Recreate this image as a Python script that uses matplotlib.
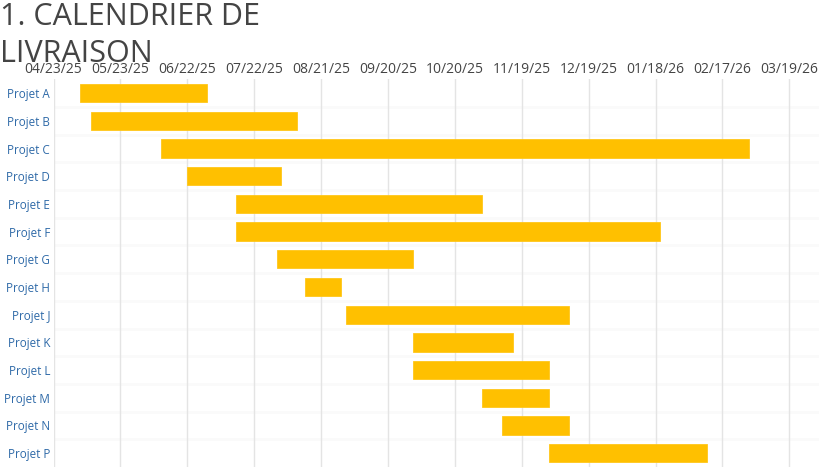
import matplotlib
matplotlib.use("Agg")
import matplotlib.pyplot as plt
import matplotlib.dates as mdates
import pandas as pd

projects = ["Projet A", "Projet B", "Projet C", "Projet D", "Projet E", "Projet F", "Projet G",
            "Projet H", "Projet J", "Projet K", "Projet L", "Projet M", "Projet N", "Projet P"]
starts = ["2025-05-05", "2025-05-10", "2025-06-10", "2025-06-22", "2025-07-14", "2025-07-14", "2025-08-01",
          "2025-08-14", "2025-09-01", "2025-10-01", "2025-10-01", "2025-11-01", "2025-11-10", "2025-12-01"]
ends = ["2025-07-01", "2025-08-10", "2026-03-01", "2025-08-03", "2025-11-01", "2026-01-20", "2025-10-01",
        "2025-08-30", "2025-12-10", "2025-11-15", "2025-12-01", "2025-12-01", "2025-12-10", "2026-02-10"]
tick_dates = pd.date_range("2025-04-23", periods=12, freq="30D")
title = "1. CALENDRIER DE\nLIVRAISON"

plt.rcParams['font.family'] = ['Open Sans', 'DejaVu Sans']

W, H = 819, 469
fig = plt.figure(figsize=(W / 100, H / 100), dpi=100)
left_px, top_px, bottom_px = 53.5, 79.3, 467.0
ax = fig.add_axes([left_px / W, 1 - bottom_px / H, 1 - left_px / W, (bottom_px - top_px) / H])

s = mdates.date2num(pd.to_datetime(starts))
e = mdates.date2num(pd.to_datetime(ends))
ypos = list(range(len(projects)))
ax.barh(ypos, e - s, left=s, height=0.66, color="#FFC000", edgecolor="#FFC71A", linewidth=0.6, zorder=3)

ax.set_ylim(len(projects) - 0.5, -0.5)
ax.set_yticks(ypos)
ax.set_yticklabels(projects, color="#2F6AA8", fontsize=8.4)

x0 = mdates.date2num(pd.Timestamp("2025-04-23"))
px_per_day = 66.9 / 30
ax.set_xlim(x0, x0 + (W - left_px) / px_per_day)
ax.set_xticks(mdates.date2num(tick_dates))
ax.xaxis.set_major_formatter(mdates.DateFormatter("%m/%d/%y"))
ax.xaxis.tick_top()
ax.tick_params(axis="x", labelsize=10, colors="#444444", length=0, pad=1.5)
ax.tick_params(axis="y", length=0, pad=2.5)
ax.grid(axis="x", color="#e4e4e4", linewidth=1, zorder=0)
for b in range(1, len(projects)):
    ax.axhline(b - 0.5, color="#fafafa", linewidth=2, zorder=1)
for sp in ax.spines.values():
    sp.set_visible(False)

fig.text(0.0, 1 - 2 / H, title, fontsize=22, color="#444444", ha="left", va="top", linespacing=1.3)

fig.savefig("out.png", dpi=100)
